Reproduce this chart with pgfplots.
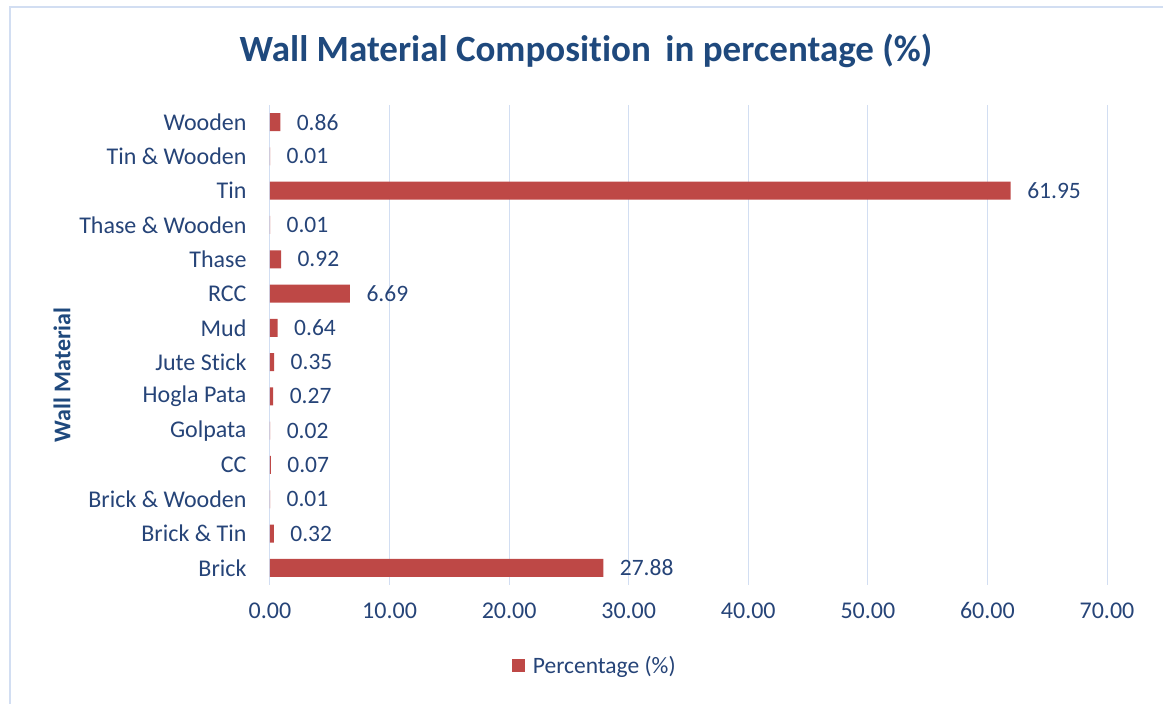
\documentclass[border=0pt]{standalone}
\usepackage{pgfplots}
\pgfplotsset{compat=1.18}
\usepackage{fontspec}
\setmainfont{Carlito}[Ligatures={NoCommon}]
\definecolor{txtblue}{RGB}{38,68,120}
\definecolor{titleblue}{RGB}{31,73,125}
\definecolor{gridblue}{RGB}{210,222,242}
\definecolor{barred}{RGB}{190,72,70}
\begin{document}
\begin{tikzpicture}[x=1pt,y=1pt]
\useasboundingbox (0,0) rectangle (1163,704);
\draw[color=gridblue,line width=1.2pt] (10,-10) rectangle (1180,697);
\node[font=\fontsize{37}{40}\selectfont\bfseries,text=titleblue] at (586,653) {Wall Material Composition\, in percentage (\%)};
\node[font=\fontsize{24}{27}\selectfont\bfseries,text=titleblue,rotate=90] at (62,329) {Wall Material};
\begin{axis}[
  at={(270pt,119pt)}, anchor=south west,
  scale only axis, width=837pt, height=480pt,
  xbar, bar width=18pt,
  xmin=0, xmax=70, ymin=-0.5, ymax=13.5,
  xtick={0,10,...,70},
  ytick={0,...,13},
  yticklabels={Brick, Brick \& Tin, Brick \& Wooden, CC, Golpata, Hogla Pata, Jute Stick, Mud, RCC, Thase, Thase \& Wooden, Tin, Tin \& Wooden, Wooden},
  axis line style={draw=none},
  major tick length=0pt,
  xmajorgrids, grid style={gridblue,line width=1pt},
  /pgf/number format/assume math mode=true,
  xticklabel={\pgfmathprintnumber[fixed,fixed zerofill,precision=2]{\tick}},
  ticklabel style={font=\fontsize{24}{27}\selectfont, text=txtblue},
  xticklabel style={yshift=-14pt},
  yticklabel style={xshift=-20pt},
  nodes near coords={\pgfmathprintnumber[fixed,fixed zerofill,precision=2,assume math mode=true]{\pgfplotspointmeta}},
  nodes near coords style={font=\fontsize{23.5}{26}\selectfont, text=txtblue, anchor=west, xshift=13pt},
  point meta=x,
  legend style={at={(0.388,-0.169)}, anchor=center, draw=none, font=\fontsize{23.5}{26}\selectfont, text=txtblue},
  legend image code/.code={\fill[barred] (0pt,-6pt) rectangle (13pt,7pt);},
  clip=false,
]
\addplot[draw=none, fill=barred] coordinates {
(27.88,0) (0.32,1) (0.01,2) (0.07,3) (0.02,4) (0.27,5) (0.35,6) (0.64,7) (6.69,8) (0.92,9) (0.01,10) (61.95,11) (0.01,12) (0.86,13)
};
\addlegendentry{\hspace{6pt}Percentage (\%)}
\end{axis}
\end{tikzpicture}
\end{document}
